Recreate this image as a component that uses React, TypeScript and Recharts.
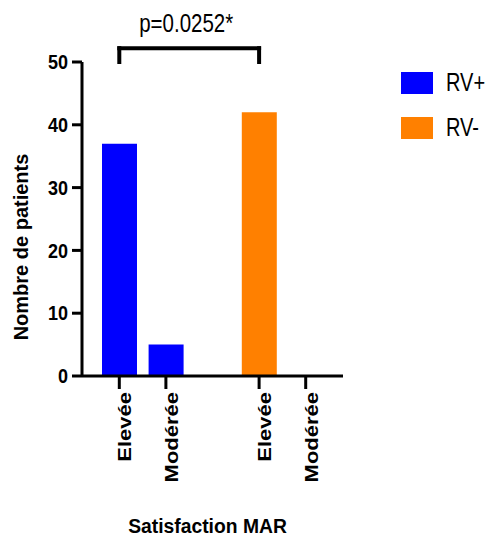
import React from 'react';
import { BarChart, Bar, XAxis, YAxis, ReferenceLine, Legend, Label } from 'recharts';

const categories = ['Elevée', 'Modérée', '', 'Elevée', 'Modérée'];
const rvPlusValues = [37, 5, null, null, null];
const rvMinusValues = [null, null, null, 42, 0];
const yTicks = [0, 10, 20, 30, 40, 50];
const seriesNames = ['RV+', 'RV-'];
const seriesColors = ['#0000FF', '#FF8000'];
const pValueText = 'p=0.0252*';
const bracketFrom = '0';
const bracketTo = '3';
const bracketLevel = 52.2;
const bracketFoot = 50;
const yAxisTitle = 'Nombre de patients';
const xAxisTitle = 'Satisfaction MAR';

const data = categories.map((c, i) => ({
  slot: String(i),
  label: c,
  rvPlus: rvPlusValues[i],
  rvMinus: rvMinusValues[i],
}));

const FONT = '"Liberation Sans", Arial, sans-serif';

const XTick = (props: any) => {
  const { x, y, payload } = props;
  const label = categories[Number(payload.value)];
  if (!label) return <g />;
  return (
    <g>
      <line x1={x} y1={y} x2={x} y2={y + 13} stroke="#000" strokeWidth={3} />
      <text
        transform={`translate(${x + 12},${y + 16}) rotate(-90) scale(1,0.82)`}
        textAnchor="end"
        fontSize={22}
        fontWeight={700}
        fill="#000"
        fontFamily={FONT}
      >
        {label}
      </text>
    </g>
  );
};

const YTick = (props: any) => {
  const { x, y, payload } = props;
  return (
    <text
      transform={`translate(${x},${y}) scale(0.9,1)`}
      textAnchor="end"
      dy="0.36em"
      fontSize={20}
      fontWeight={700}
      fill="#000"
      fontFamily={FONT}
    >
      {payload.value}
    </text>
  );
};

const YTitle = (p: any) => {
  const vb = p.viewBox || { x: 0, y: 62, width: 82, height: 314 };
  return (
    <text
      transform={`translate(${vb.x + 28},${vb.y + vb.height / 2 + 28}) rotate(-90)`}
      textAnchor="middle"
      fontSize={20}
      fontWeight={700}
      fill="#000"
      fontFamily={FONT}
    >
      {yAxisTitle}
    </text>
  );
};

const XTitle = (p: any) => {
  const vb = p.viewBox || { x: 82, y: 376, width: 261, height: 170 };
  return (
    <text
      transform={`translate(${vb.x + vb.width / 2 - 5},${vb.y + 157}) scale(0.92,1)`}
      textAnchor="middle"
      fontSize={21}
      fontWeight={700}
      fill="#000"
      fontFamily={FONT}
    >
      {xAxisTitle}
    </text>
  );
};

const PLabel = (p: any) => {
  const vb = p.viewBox || { x: 119, y: 48, width: 140, height: 0 };
  return (
    <text
      transform={`translate(${vb.x + vb.width / 2 - 3},${vb.y - 16}) scale(0.82,1)`}
      textAnchor="middle"
      fontSize={25}
      fill="#000"
      fontFamily={FONT}
    >
      {pValueText}
    </text>
  );
};

const LegendBox = (props: any) => {
  const items = [...(props.payload || [])].sort(
    (a: any, b: any) => seriesNames.indexOf(a.value) - seriesNames.indexOf(b.value)
  );
  return (
    <div style={{ position: 'relative', width: 90, height: 90, fontFamily: FONT }}>
      {items.map((it: any, i: number) => (
        <div
          key={i}
          style={{ position: 'absolute', left: 0, top: i * 45, height: 22, width: 90 }}
        >
          <div
            style={{
              position: 'absolute',
              left: 6,
              top: 0,
              width: 32,
              height: 22,
              background: it.color,
            }}
          />
          <span
            style={{
              position: 'absolute',
              left: 51,
              top: -5,
              fontSize: 25,
              lineHeight: '30px',
              color: '#000',
              whiteSpace: 'nowrap',
              transform: 'scaleX(0.8)',
              transformOrigin: 'left center',
            }}
          >
            {it.value}
          </span>
        </div>
      ))}
    </div>
  );
};

export default function App() {
  return (
    <div style={{ position: 'absolute', left: 0, top: 0, background: '#fff' }}>
      <BarChart
        width={491}
        height={546}
        data={data}
        margin={{ top: 62, right: 148, bottom: 0, left: 0 }}
      >
        <XAxis
          dataKey="slot"
          type="category"
          height={170}
          padding={{ left: 14, right: 14 }}
          axisLine={{ stroke: '#000', strokeWidth: 3 }}
          tickLine={false}
          tickSize={0}
          tickMargin={0}
          tick={<XTick />}
          interval={0}
        >
          <Label content={<XTitle />} />
        </XAxis>
        <YAxis
          width={82}
          domain={[0, 50]}
          ticks={yTicks}
          axisLine={{ stroke: '#000', strokeWidth: 3 }}
          tickLine={{ stroke: '#000', strokeWidth: 3 }}
          tickSize={10}
          tickMargin={4}
          tick={<YTick />}
          interval={0}
        >
          <Label content={<YTitle />} />
        </YAxis>
        <Legend
          layout="vertical"
          align="center"
          verticalAlign="middle"
          wrapperStyle={{ left: 395, top: 72, width: 90, height: 90 }}
          content={<LegendBox />}
        />
        <Bar
          dataKey="rvPlus"
          name={seriesNames[0]}
          stackId="s"
          fill={seriesColors[0]}
          barSize={35}
          isAnimationActive={false}
        />
        <Bar
          dataKey="rvMinus"
          name={seriesNames[1]}
          stackId="s"
          fill={seriesColors[1]}
          barSize={35}
          isAnimationActive={false}
        />
        <ReferenceLine
          segment={[
            { x: bracketFrom, y: bracketLevel },
            { x: bracketTo, y: bracketLevel },
          ]}
          stroke="#000"
          strokeWidth={4}
          strokeLinecap="square"
          ifOverflow="visible"
          label={<PLabel />}
        />
        <ReferenceLine
          segment={[
            { x: bracketFrom, y: bracketLevel },
            { x: bracketFrom, y: bracketFoot },
          ]}
          stroke="#000"
          strokeWidth={4}
          strokeLinecap="square"
          ifOverflow="visible"
        />
        <ReferenceLine
          segment={[
            { x: bracketTo, y: bracketLevel },
            { x: bracketTo, y: bracketFoot },
          ]}
          stroke="#000"
          strokeWidth={4}
          strokeLinecap="square"
          ifOverflow="visible"
        />
      </BarChart>
    </div>
  );
}
